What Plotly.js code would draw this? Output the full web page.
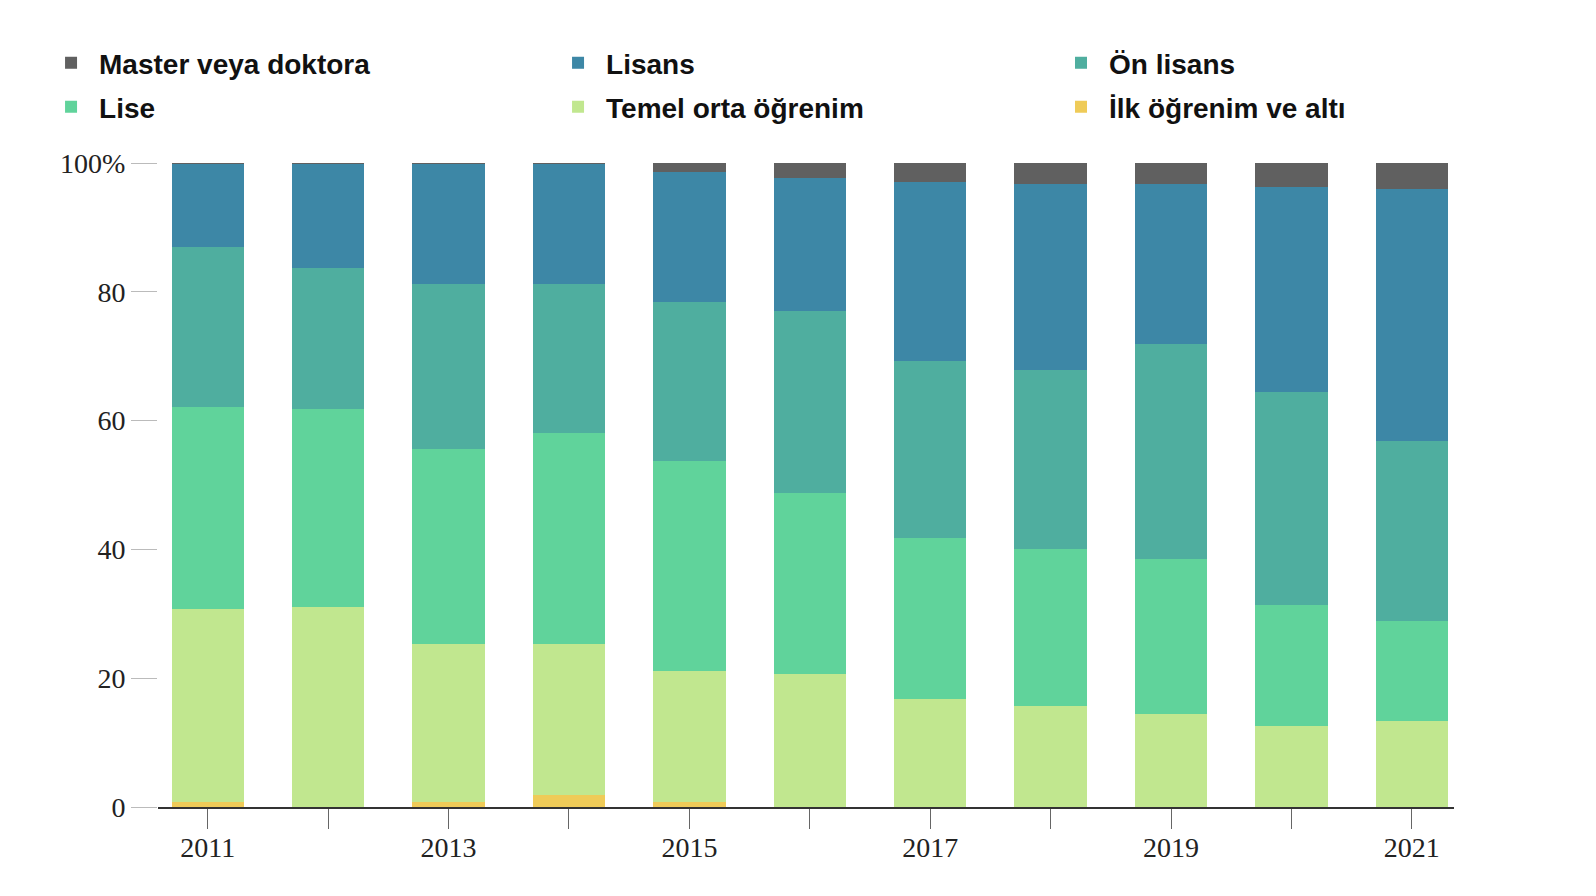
<!DOCTYPE html>
<html>
<head>
<meta charset="utf-8">
<script src="https://cdn.plot.ly/plotly-3.0.1.min.js"></script>
<style>
  html, body { margin: 0; padding: 0; background: #fff; }
  #chart { width: 1596px; height: 896px; }
</style>
</head>
<body>
<div id="chart"></div>
<script>
// years and shares (%)
const years = [2011, 2012, 2013, 2014, 2015, 2016, 2017, 2018, 2019, 2020, 2021];
const xTickText = ['2011', '', '2013', '', '2015', '', '2017', '', '2019', '', '2021'];
const yTickVals = [0, 20, 40, 60, 80, 100];
const yTickText = ['0', '20', '40', '60', '80', '100%'];

const ilkOgrenim    = [0.7, 0.0, 0.7, 1.9, 0.7, 0.0, 0.0, 0.0, 0.0, 0.0, 0.0];
const temelOrta     = [30.1, 31.0, 24.6, 23.4, 20.4, 20.7, 16.8, 15.7, 14.4, 12.6, 13.3];
const lise          = [31.3, 30.8, 30.3, 32.8, 32.7, 28.1, 25.0, 24.3, 24.1, 18.8, 15.6];
const onLisans      = [24.8, 21.9, 25.6, 23.1, 24.6, 28.2, 27.4, 27.8, 33.4, 33.1, 27.9];
const lisans        = [12.9, 16.1, 18.6, 18.6, 20.2, 20.6, 27.9, 29.0, 24.9, 31.8, 39.2];
const masterDoktora = [0.2, 0.2, 0.2, 0.2, 1.4, 2.4, 2.9, 3.2, 3.2, 3.7, 4.0];

const series = [
  { name: 'Master veya doktora', y: masterDoktora, color: '#606060' },
  { name: 'Lisans', y: lisans, color: '#3d87a6' },
  { name: 'Ön lisans', y: onLisans, color: '#4fae9f' },
  { name: 'Lise', y: lise, color: '#60d39b' },
  { name: 'Temel orta öğrenim', y: temelOrta, color: '#c1e78f' },
  { name: 'İlk öğrenim ve altı', y: ilkOgrenim, color: '#efcb58' }
];

// one legend per entry so the 3x2 grid sits where the original puts it
const legendX = [-0.0887, 0.3025, 0.6906];
const legendY = [1.194, 1.1257];
const legendIds = series.map((s, i) => i === 0 ? 'legend' : 'legend' + (i + 1));

// stack from the bottom category upward
const traces = series.map((s, i) => ({
  type: 'bar',
  name: s.name,
  x: years,
  y: s.y,
  legend: legendIds[i],
  marker: { color: s.color, line: { width: 0 } },
  hoverinfo: 'x+y+name'
})).reverse();

const serif = 'Liberation Serif, Times New Roman, serif';

const layout = {
  width: 1596, height: 896,
  barmode: 'stack',
  bargap: 0.4,
  paper_bgcolor: '#fff', plot_bgcolor: '#fff',
  margin: { l: 158, r: 142, t: 163, b: 89 },
  showlegend: true,
  xaxis: {
    type: 'linear',
    range: [2010.587, 2021.35],
    tickvals: years,
    ticktext: xTickText,
    ticks: 'outside', ticklen: 20, tickwidth: 1, tickcolor: '#666',
    ticklabelstandoff: -6,
    showline: true, linecolor: '#333', linewidth: 2,
    showgrid: false, zeroline: false,
    tickfont: { family: serif, size: 28, color: '#222' },
    fixedrange: true
  },
  yaxis: {
    range: [0, 100],
    tickvals: yTickVals,
    ticktext: yTickText,
    ticks: 'outside', ticklen: 26, tickwidth: 1, tickcolor: '#bbb',
    showline: false, showgrid: false, zeroline: false,
    tickfont: { family: serif, size: 28, color: '#222' },
    fixedrange: true
  }
};

legendIds.forEach((id, i) => {
  layout[id] = {
    orientation: 'h',
    xref: 'paper', yref: 'paper',
    x: legendX[i % 3], y: legendY[Math.floor(i / 3)],
    xanchor: 'left', yanchor: 'top',
    itemwidth: 46,
    font: { family: 'Liberation Sans, Arial, sans-serif', size: 28, color: '#111', weight: 'bold' },
    bgcolor: 'rgba(0,0,0,0)'
  };
});

Plotly.newPlot('chart', traces, layout, { displayModeBar: false, staticPlot: true });
</script>
</body>
</html>
